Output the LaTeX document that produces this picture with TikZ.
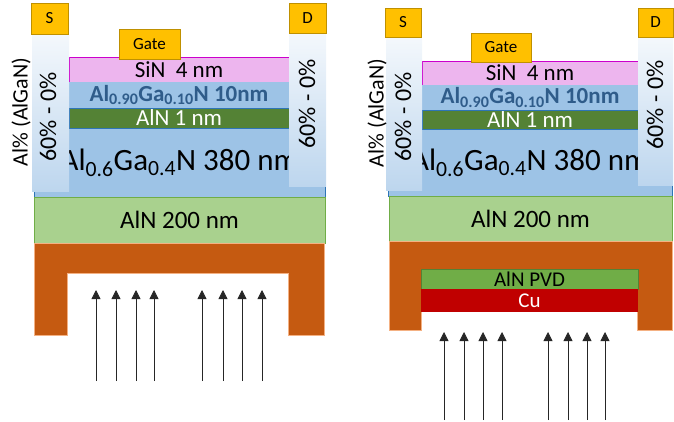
\documentclass[tikz,border=0pt]{standalone}
\usepackage{fontspec}
\setmainfont{Carlito}
\usepackage{tikz}
\usetikzlibrary{arrows.meta}
\definecolor{contactgold}{HTML}{FFC000}
\definecolor{contactedge}{HTML}{BF9000}
\definecolor{sinpink}{HTML}{EDB5EE}
\definecolor{sinedge}{HTML}{CC00CC}
\definecolor{algablue}{HTML}{9DC3E6}
\definecolor{algaedge}{HTML}{2E75B6}
\definecolor{algatext}{HTML}{2F5C8A}
\definecolor{alndark}{HTML}{548235}
\definecolor{alnlight}{HTML}{A9D18E}
\definecolor{alnedge}{HTML}{70AD47}
\definecolor{copperorange}{HTML}{C55A11}
\definecolor{copperedge}{HTML}{F4B183}
\definecolor{cured}{HTML}{C00000}
\definecolor{bartop}{HTML}{F4F8FC}
\definecolor{barbottom}{HTML}{BDD6EE}
\definecolor{arrowgray}{HTML}{262626}
\tikzstyle{layer} = [anchor=north west, inner sep=0pt, outer sep=0pt]
\tikzstyle{contact} = [layer, draw=contactedge, fill=contactgold, font=\fontsize{17}{17}\selectfont]
\tikzstyle{gradbar} = [layer, top color=bartop, bottom color=barbottom, draw=none]
\tikzstyle{bartext} = [rotate=90, font=\fontsize{24}{24}\selectfont]
\tikzstyle{uvarrow} = [-{Triangle[width=9pt,length=9pt]}, color=arrowgray, line width=0.8pt]

\begin{document}
\begin{tikzpicture}[x=1pt, y=-1pt, every node/.style={font=\fontsize{23}{23}\selectfont}]
    \useasboundingbox (0,0) rectangle (674,421);

    % left device: substrate and bulk layers
    \node[layer, draw=algaedge, fill=algablue, minimum width=291pt, minimum height=69pt, font=\fontsize{31}{31}\selectfont] (bulkL) at (34,128) {Al\textsubscript{0.6}Ga\textsubscript{0.4}N 380 nm};
    \node[layer, draw=alnedge, fill=alnlight, minimum width=291pt, minimum height=46pt, font=\fontsize{25}{25}\selectfont] (baseL) at (34,197) {AlN 200 nm};
    \filldraw[fill=copperorange, draw=copperedge] (34,243) -- (324,243) -- (324,335) -- (288,335) -- (288,273) -- (67,273) -- (67,335) -- (34,335) -- cycle;
    \node[layer, draw=sinedge, fill=sinpink, minimum width=220pt, minimum height=25pt] (sinL) at (69,57) {SiN\ \ 4 nm};
    \node[layer, fill=algablue, minimum width=220pt, minimum height=26pt, text=algatext, font=\fontsize{23}{23}\selectfont\bfseries] (barrierL) at (69,82) {Al\textsubscript{0.90}Ga\textsubscript{0.10}N 10nm};
    \node[layer, draw=algaedge, fill=alndark, minimum width=220pt, minimum height=20pt, text=white] (spacerL) at (69,108) {AlN 1 nm};

    % left device: graded contacts
    \node[gradbar, minimum width=37pt, minimum height=157pt] (srcbarL) at (32,34) {};
    \node[gradbar, minimum width=37pt, minimum height=153pt] (drnbarL) at (289,33) {};
    \node[bartext] (srcgradL) at (48,117) {60\% - 0\%};
    \node[bartext] (drngradL) at (307,104) {60\% - 0\%};
    \node[contact, minimum width=37pt, minimum height=31pt] (srcL) at (31,3) {S};
    \node[contact, minimum width=37pt, minimum height=30pt] (drnL) at (289,3) {D};
    \node[contact, minimum width=61pt, minimum height=30pt] (gateL) at (119,29) {Gate};
    \node[rotate=90, font=\fontsize{22}{22}\selectfont] (alpctL) at (21,112) {Al\% (AlGaN)};

    % right device: substrate and bulk layers
    \node[layer, draw=algaedge, fill=algablue, minimum width=284pt, minimum height=67pt, font=\fontsize{31}{31}\selectfont] (bulkR) at (388,129) {Al\textsubscript{0.6}Ga\textsubscript{0.4}N 380 nm};
    \node[layer, draw=alnedge, fill=alnlight, minimum width=283pt, minimum height=45pt, font=\fontsize{25}{25}\selectfont] (baseR) at (389,196) {AlN 200 nm};
    \filldraw[fill=copperorange, draw=copperedge] (389,241) -- (672,241) -- (672,330) -- (637,330) -- (637,269) -- (421,269) -- (421,330) -- (389,330) -- cycle;
    \node[layer, draw=alndark, fill=alnedge, minimum width=217pt, minimum height=20pt, font=\fontsize{21}{21}\selectfont] (pvdR) at (421,269) {AlN PVD};
    \node[layer, fill=cured, minimum width=217pt, minimum height=23pt, text=white, font=\fontsize{21}{21}\selectfont] (cuR) at (421,289) {Cu};
    \node[layer, draw=sinedge, fill=sinpink, minimum width=216pt, minimum height=24pt] (sinR) at (422,61) {SiN\ \ 4 nm};
    \node[layer, fill=algablue, minimum width=216pt, minimum height=25pt, text=algatext, font=\fontsize{23}{23}\selectfont\bfseries] (barrierR) at (422,85) {Al\textsubscript{0.90}Ga\textsubscript{0.10}N 10nm};
    \node[layer, draw=algaedge, fill=alndark, minimum width=216pt, minimum height=19pt, text=white] (spacerR) at (422,110) {AlN 1 nm};

    % right device: graded contacts
    \node[gradbar, minimum width=36pt, minimum height=153pt] (srcbarR) at (386,37) {};
    \node[gradbar, minimum width=35pt, minimum height=148pt] (drnbarR) at (638,37) {};
    \node[bartext] (srcgradR) at (403,117) {60\% - 0\%};
    \node[bartext] (drngradR) at (655,105) {60\% - 0\%};
    \node[contact, minimum width=36pt, minimum height=29pt] (srcR) at (385,8) {S};
    \node[contact, minimum width=35pt, minimum height=29pt] (drnR) at (638,8) {D};
    \node[contact, minimum width=60pt, minimum height=29pt] (gateR) at (471,33) {Gate};
    \node[rotate=90, font=\fontsize{22}{22}\selectfont] (alpctR) at (377,113) {Al\% (AlGaN)};

    % backside light
    \foreach \i/\x in {1/96, 2/116, 3/136, 4/154, 5/202, 6/223, 7/242, 8/262} {
        \coordinate (lowL\i) at (\x,381);
        \coordinate (tipL\i) at (\x,290);
        \draw[uvarrow] (lowL\i) -- (tipL\i);
    }
    \foreach \i/\x in {1/444, 2/464, 3/483, 4/502, 5/548, 6/568, 7/587, 8/605} {
        \coordinate (lowR\i) at (\x,420);
        \coordinate (tipR\i) at (\x,332);
        \draw[uvarrow] (lowR\i) -- (tipR\i);
    }
\end{tikzpicture}
\end{document}
